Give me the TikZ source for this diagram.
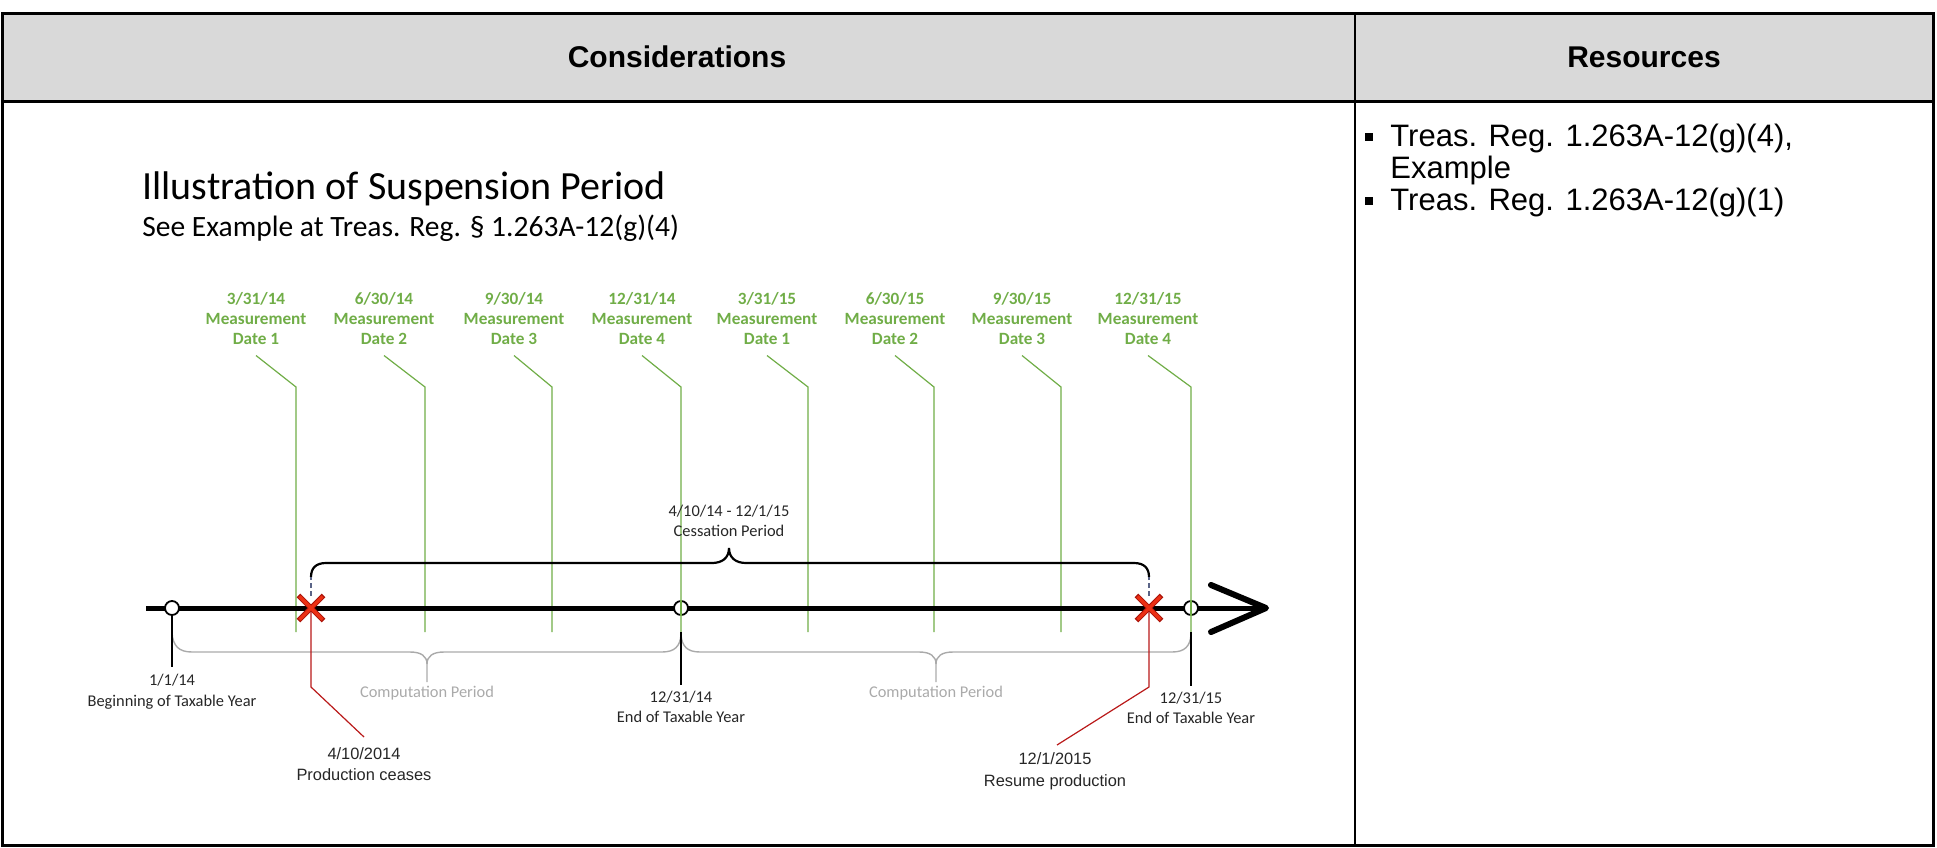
\documentclass[tikz,border=0pt]{standalone}
\usepackage{fontspec}
\setmainfont{Liberation Sans}
\newfontfamily\calfont{Carlito}
\usetikzlibrary{shapes.misc}
\definecolor{hdr}{RGB}{217,217,217}
\definecolor{mgreen}{RGB}{112,173,71}
\definecolor{xred}{RGB}{236,48,20}
\definecolor{xdark}{RGB}{170,20,10}
\definecolor{dred}{RGB}{185,25,25}
\definecolor{cgray}{RGB}{170,170,170}
\definecolor{dashblue}{RGB}{90,100,135}
\begin{document}
\begin{tikzpicture}[x=0.5pt,y=-0.5pt,
  hdrtext/.style={font=\bfseries\fontsize{15}{17}\selectfont, inner sep=0},
  restext/.style={font=\fontsize{15.5}{17}\selectfont, inner sep=0, anchor=base west},
  bulletsq/.style={fill=black, minimum size=3.8pt, inner sep=0},
  greenlab/.style={font=\calfont\bfseries\fontsize{8.6}{10}\selectfont, text=mgreen, align=center, inner sep=0},
  gline/.style={draw=mgreen, line width=0.6pt},
  blab/.style={font=\calfont\fontsize{8.2}{10.3}\selectfont, text=black!85, align=center, inner sep=0},
  redlab/.style={font=\fontsize{8.2}{10.8}\selectfont, text=black!85, align=center, inner sep=0},
  complab/.style={font=\calfont\fontsize{8.2}{10}\selectfont, text=cgray, inner sep=0},
  tick/.style={draw=black, line width=0.8pt},
  brc/.style={draw=cgray, line width=0.7pt},
  circ/.style={circle, draw=black, line width=0.9pt, fill=white, minimum size=7pt, inner sep=0},
  redline/.style={draw=dred, line width=0.6pt},
]
\useasboundingbox (0,0) rectangle (1937,847);

% ---------- table ----------
\fill[hdr] (3,13) rectangle (1933,101);
\draw[line width=1.5pt] (2.5,13) rectangle (1933,845);
\draw[line width=1.5pt] (2.5,101) -- (1933,101);
\draw[line width=1pt] (1355,13) -- (1355,845);
\node[hdrtext] (h1) at (677,57) {Considerations};
\node[hdrtext] (h2) at (1644,57) {Resources};

\node[bulletsq] (bu1) at (1369,137) {};
\node[restext] (r1) at (1390,146) {Treas. Reg. 1.263A-12(g)(4),};
\node[restext] (r2) at (1390,178) {Example};
\node[bulletsq] (bu2) at (1369,201) {};
\node[restext] (r3) at (1390,210) {Treas. Reg. 1.263A-12(g)(1)};

% ---------- titles ----------
\node[font=\calfont\fontsize{20}{23}\selectfont, anchor=base west, inner sep=0] (title) at (142,199) {Illustration of Suspension Period};
\node[font=\calfont\fontsize{14.75}{17}\selectfont, anchor=base west, inner sep=0] (sub) at (142,236) {See Example at Treas. Reg. \S\ 1.263A-12(g)(4)};

% ---------- green measurement labels ----------
\node[greenlab] (g1) at (256,319) {3/31/14\\Measurement\\Date 1};
\node[greenlab] (g2) at (384,319) {6/30/14\\Measurement\\Date 2};
\node[greenlab] (g3) at (514,319) {9/30/14\\Measurement\\Date 3};
\node[greenlab] (g4) at (642,319) {12/31/14\\Measurement\\Date 4};
\node[greenlab] (g5) at (767,319) {3/31/15\\Measurement\\Date 1};
\node[greenlab] (g6) at (895,319) {6/30/15\\Measurement\\Date 2};
\node[greenlab] (g7) at (1022,319) {9/30/15\\Measurement\\Date 3};
\node[greenlab] (g8) at (1148,319) {12/31/15\\Measurement\\Date 4};
\foreach \i/\vx in {1/296,2/425,3/552,4/681,5/808,6/934,7/1061,8/1191}{
  \coordinate (v\i) at (\vx,632);
  \coordinate (k\i) at (\vx,387);
  \draw[gline] ([yshift=-5pt]g\i.south) -- (k\i) -- (v\i);
}

% ---------- cessation brace ----------
\coordinate (xc1) at (311,608);
\coordinate (xc2) at (1149,608);
\coordinate (b1) at (311,577);
\coordinate (b2) at (1149,577);
\draw[line width=1.1pt] (b1) .. controls (311,568) and (316,563) .. (326,563) -- (712,563)
   .. controls (722,563) and (729,558) .. (729,548)
   .. controls (729,558) and (736,563) .. (746,563) -- (1134,563)
   .. controls (1144,563) and (1149,568) .. (b2);
\node[blab] (cess) at (729,521) {4/10/14 - 12/1/15\\Cessation Period};
\draw[dashblue, line width=0.7pt, dash pattern=on 2.5pt off 1.5pt] ([yshift=6pt]xc1) -- (b1);
\draw[dashblue, line width=0.7pt, dash pattern=on 2.5pt off 1.5pt] ([yshift=6pt]xc2) -- (b2);

% ---------- computation braces ----------
\draw[brc] (172,633) .. controls (173,646) and (179,652) .. (192,652) -- (410,652)
   .. controls (421,652) and (427,656) .. (427,664) -- (427,682);
\draw[brc] (427,664) .. controls (427,656) and (433,652) .. (444,652) -- (662,652)
   .. controls (675,652) and (680,646) .. (681,635);
\draw[brc] (681,635) .. controls (682,646) and (687,652) .. (700,652) -- (919,652)
   .. controls (930,652) and (936,656) .. (936,664) -- (936,682);
\draw[brc] (936,664) .. controls (936,656) and (942,652) .. (953,652) -- (1172,652)
   .. controls (1185,652) and (1190,646) .. (1191,635);
\node[complab] (cp1) at (427,693) {Computation Period};
\node[complab] (cp2) at (936,693) {Computation Period};

% ---------- red production lines ----------
\coordinate (re1) at (364,737);
\coordinate (re2) at (1057,745);
\draw[redline] (xc1) -- (311,687) -- (re1);
\draw[redline] (xc2) -- (1149,687) -- (re2);
\node[redlab] (p1) at (364,764) {4/10/2014\\Production ceases};
\node[redlab] (p2) at (1055,771) {12/1/2015\\Resume production};

% ---------- timeline ----------
\coordinate (t0) at (146,608);
\coordinate (tip) at (1266,608);
\coordinate (a1) at (1211,585);
\coordinate (a2) at (1211,632);
\draw[line width=2.5pt] (t0) -- (tip);
\draw[line width=3pt, line cap=round, line join=round] (a1) -- (tip) -- (a2);

\node[circ] (c1) at (172,608) {};
\node[circ] (c2) at (681,608) {};
\node[circ] (c3) at (1191,608) {};
\draw[gline] (c2.north) -- (c2.south);
\draw[gline] (c3.north) -- (c3.south);

% ticks and year labels
\node[blab] (l1) at (172,692) {1/1/14\\Beginning of Taxable Year};
\node[blab] (l2) at (681,707) {12/31/14\\End of Taxable Year};
\node[blab] (l3) at (1191,708) {12/31/15\\End of Taxable Year};
\draw[tick] (c1.south) -- ([yshift=3.5pt]l1.north);
\draw[tick] (v4) -- ([yshift=3pt]l2.north);
\draw[tick] (v8) -- ([yshift=3pt]l3.north);

% red crosses
\node[cross out, draw=xdark, line width=2.6pt, minimum size=10pt, inner sep=0] (x1) at (xc1) {};
\node[cross out, draw=xred, line width=1.6pt, minimum size=10pt, inner sep=0] (x1b) at (xc1) {};
\node[cross out, draw=xdark, line width=2.6pt, minimum size=10pt, inner sep=0] (x2) at (xc2) {};
\node[cross out, draw=xred, line width=1.6pt, minimum size=10pt, inner sep=0] (x2b) at (xc2) {};
\end{tikzpicture}
\end{document}
